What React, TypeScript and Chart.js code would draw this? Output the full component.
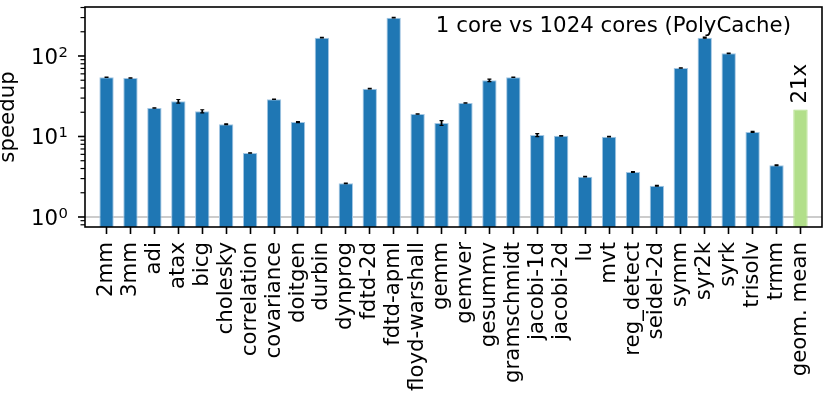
import React, { useEffect, useRef } from 'react';
import { Chart, registerables } from 'chart.js';

Chart.register(...registerables);

const categories = ['2mm', '3mm', 'adi', 'atax', 'bicg', 'cholesky', 'correlation', 'covariance', 'doitgen', 'durbin', 'dynprog', 'fdtd-2d', 'fdtd-apml', 'floyd-warshall', 'gemm', 'gemver', 'gesummv', 'gramschmidt', 'jacobi-1d', 'jacobi-2d', 'lu', 'mvt', 'reg_detect', 'seidel-2d', 'symm', 'syr2k', 'syrk', 'trisolv', 'trmm', 'geom. mean'];
const speedups = [54.4, 53.3, 22.6, 27.4, 20.6, 14.2, 6.24, 29.0, 15.1, 169, 2.62, 39.3, 299, 19.0, 14.7, 26.1, 49.9, 54.4, 10.4, 10.2, 3.17, 9.95, 3.62, 2.45, 71, 169, 108, 11.4, 4.39, 21.6];
const errors = [0.3, 0.3, 0.15, 1.4, 0.9, 0.15, 0.04, 0.2, 0.25, 1.5, 0.02, 0.4, 2.5, 0.1, 1.0, 0.15, 1.8, 0.3, 0.45, 0.08, 0.03, 0.08, 0.03, 0.03, 0.3, 3, 0.8, 0.15, 0.04, 0];
const yMajorTicks = [1, 10, 100];
const yMajorBase = ['10', '10', '10'];
const yMajorExp = ['0', '1', '2'];
const meanLabel = '21x';
const titleText = '1 core vs 1024 cores (PolyCache)';
const yAxisTitle = 'speedup';

const FONT = "'DejaVu Sans', sans-serif";
const FS = 21.3;
const BLUE = '#1f77b4';
const GREEN = '#b2df8a';

const deco = {
  id: 'deco',
  beforeDatasetsDraw(chart: any) {
    const { ctx, chartArea: a, scales } = chart;
    const py = scales.y.getPixelForValue(1);
    ctx.save();
    ctx.strokeStyle = '#cccccc';
    ctx.lineWidth = 2;
    ctx.beginPath();
    ctx.moveTo(a.left, py);
    ctx.lineTo(a.right, py);
    ctx.stroke();
    ctx.restore();
  },
  afterDatasetsDraw(chart: any) {
    const { ctx, chartArea: a, scales } = chart;
    const x = scales.x;
    const y = scales.y;
    ctx.save();
    // error bars
    ctx.strokeStyle = '#000';
    ctx.lineWidth = 1.8;
    errors.forEach((e, i) => {
      if (!e) return;
      const cx = x.getPixelForValue(i);
      const y1 = y.getPixelForValue(speedups[i] - e);
      const y2 = y.getPixelForValue(speedups[i] + e);
      ctx.beginPath();
      ctx.moveTo(cx, y1);
      ctx.lineTo(cx, y2);
      ctx.stroke();
      ctx.lineWidth = 1.2;
      ctx.beginPath();
      ctx.moveTo(cx - 2, y1);
      ctx.lineTo(cx + 2, y1);
      ctx.moveTo(cx - 2, y2);
      ctx.lineTo(cx + 2, y2);
      ctx.stroke();
      ctx.lineWidth = 1.8;
    });
    // frame
    ctx.lineWidth = 1.6;
    ctx.strokeRect(a.left, a.top, a.right - a.left, a.bottom - a.top);
    // y ticks
    for (let d = -1; d <= 2; d++) {
      for (let m = 1; m <= 9; m++) {
        const v = m * Math.pow(10, d);
        if (v < y.min || v > y.max) continue;
        const py = y.getPixelForValue(v);
        const len = m === 1 ? 7 : 4.5;
        ctx.lineWidth = m === 1 ? 1.6 : 1.2;
        ctx.beginPath();
        ctx.moveTo(a.left - len, py);
        ctx.lineTo(a.left, py);
        ctx.stroke();
      }
    }
    // y tick labels
    ctx.fillStyle = '#000';
    yMajorTicks.forEach((v, i) => {
      const py = y.getPixelForValue(v);
      ctx.font = `14.8px ${FONT}`;
      ctx.textAlign = 'right';
      ctx.textBaseline = 'alphabetic';
      const supW = ctx.measureText(yMajorExp[i]).width;
      ctx.fillText(yMajorExp[i], 68, py + 0.7);
      ctx.font = `${FS}px ${FONT}`;
      ctx.fillText(yMajorBase[i], 68 - supW - 0.5, py + 8.0);
    });
    // y axis title
    ctx.save();
    ctx.translate(13.5, (a.top + a.bottom) / 2);
    ctx.rotate(-Math.PI / 2);
    ctx.font = `${FS}px ${FONT}`;
    ctx.textAlign = 'center';
    ctx.textBaseline = 'alphabetic';
    ctx.fillText(yAxisTitle, 0, 0);
    ctx.restore();
    // title inside
    ctx.font = `${FS}px ${FONT}`;
    ctx.textAlign = 'right';
    ctx.textBaseline = 'alphabetic';
    ctx.fillText(titleText, 791, 32);
    // mean label
    const mi = speedups.length - 1;
    ctx.save();
    ctx.translate(x.getPixelForValue(mi), y.getPixelForValue(speedups[mi]) - 6);
    ctx.rotate(-Math.PI / 2);
    ctx.textAlign = 'left';
    ctx.textBaseline = 'middle';
    ctx.fillText(meanLabel, 0, 0);
    ctx.restore();
    ctx.restore();
  },
};

export default function App() {
  const ref = useRef<HTMLCanvasElement>(null);
  useEffect(() => {
    if (!ref.current) return;
    const n = categories.length;
    const chart = new Chart(ref.current, {
      type: 'bar',
      data: {
        datasets: [
          {
            data: speedups.map((v, i) => ({ x: i, y: v })),
            backgroundColor: speedups.map((_, i) => (i === n - 1 ? GREEN : BLUE)),
            borderColor: speedups.map((_, i) => (i === n - 1 ? GREEN : '#a3c6e3')),
            borderWidth: 1,
            borderSkipped: 'start',
            barPercentage: 0.6,
            categoryPercentage: 1,
          } as any,
        ],
      },
      options: {
        responsive: false,
        animation: false,
        events: [],
        layout: { padding: { left: 85, right: 8, top: 7, bottom: 0 } },
        plugins: { legend: { display: false }, tooltip: { enabled: false } },
        scales: {
          x: {
            type: 'linear',
            min: -0.9,
            max: n - 0.1,
            offset: false,
            afterBuildTicks: (s: any) => {
              s.ticks = categories.map((_, i) => ({ value: i }));
            },
            afterFit: (s: any) => {
              s.height = 170;
              s.paddingLeft = 0;
              s.paddingRight = 0;
            },
            ticks: {
              autoSkip: false,
              minRotation: 90,
              maxRotation: 90,
              padding: 8,
              color: '#000',
              font: { family: FONT, size: FS },
              callback: (_v: any, idx: number) => categories[idx],
            },
            grid: {
              offset: false,
              drawOnChartArea: false,
              drawTicks: true,
              tickLength: 7,
              tickWidth: 1.6,
              tickColor: '#000',
            },
            border: { display: false },
          } as any,
          y: {
            type: 'logarithmic',
            min: 0.751,
            max: 406,
            display: false,
          },
        },
      },
      plugins: [deco],
    });
    return () => chart.destroy();
  }, []);
  return (
    <div style={{ position: 'absolute', left: 0, top: 0, width: 830, height: 397 }}>
      <canvas ref={ref} width={830} height={397} style={{ width: 830, height: 397 }} />
    </div>
  );
}
